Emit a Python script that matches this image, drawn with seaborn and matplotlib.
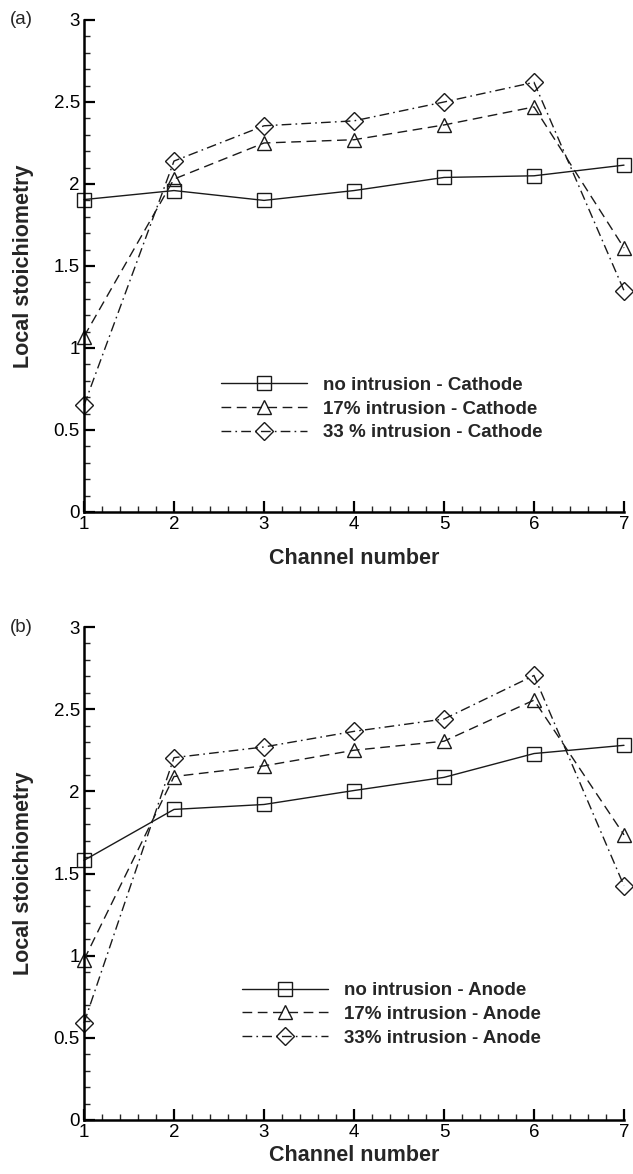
import numpy as np
import pandas as pd
import matplotlib
matplotlib.use("Agg")
import matplotlib.pyplot as plt
from matplotlib.ticker import MultipleLocator
import seaborn as sns

channels = [1, 2, 3, 4, 5, 6, 7]

cathode_none = [1.905, 1.96, 1.90, 1.96, 2.04, 2.05, 2.115]
cathode_17 = [1.07, 2.03, 2.25, 2.27, 2.36, 2.47, 1.61]
cathode_33 = [0.65, 2.14, 2.355, 2.385, 2.50, 2.62, 1.35]

anode_none = [1.58, 1.89, 1.92, 2.005, 2.085, 2.23, 2.28]
anode_17 = [0.975, 2.09, 2.155, 2.25, 2.305, 2.555, 1.735]
anode_33 = [0.59, 2.205, 2.27, 2.365, 2.44, 2.705, 1.425]

labels_a = ["no intrusion - Cathode", "17% intrusion - Cathode", "33 % intrusion - Cathode"]
labels_b = ["no intrusion - Anode", "17% intrusion - Anode", "33% intrusion - Anode"]

ytick_vals = [0, 0.5, 1, 1.5, 2, 2.5, 3]
ytick_labels = ["0", "0.5", "1", "1.5", "2", "2.5", "3"]

sns.set_style("ticks")
plt.rcParams["font.family"] = ["Liberation Sans", "DejaVu Sans"]

fig = plt.figure(figsize=(6.33, 11.74), dpi=100)
W, H = 633, 1174

def axes_px(left, right, top, bottom):
    return fig.add_axes([left / W, 1 - bottom / H, (right - left) / W, (bottom - top) / H])

ax_a = axes_px(84, 624, 20, 512)
ax_b = axes_px(84, 624, 627, 1120)

styles = [
    dict(linestyle="-", marker="s", markersize=9.5),
    dict(linestyle=(0, (7, 4)), marker="^", markersize=10.5),
    dict(linestyle=(0, (7, 3, 1.2, 3)), marker="D", markersize=9.5),
]
col = "#1a1a1a"

def draw(ax, series, labels, legend_pos, tag, tag_y, xpad):
    for vals, lab, st in zip(series, labels, styles):
        df = pd.DataFrame({"Channel": channels, "Value": vals})
        sns.lineplot(data=df, x="Channel", y="Value", ax=ax, color=col,
                     linewidth=1.0, markerfacecolor="none", markeredgecolor=col,
                     markeredgewidth=1.0, label=lab, errorbar=None,
                     clip_on=False, **st)
    ax.set_xlim(1, 7)
    ax.set_ylim(0, 3)
    ax.set_xticks(channels)
    ax.set_xticklabels([str(c) for c in channels])
    ax.set_yticks(ytick_vals)
    ax.set_yticklabels(ytick_labels)
    ax.xaxis.set_minor_locator(MultipleLocator(0.2))
    ax.yaxis.set_minor_locator(MultipleLocator(0.1))
    ax.tick_params(axis="both", which="major", direction="in", length=8, width=1.6,
                   labelsize=13.5, colors="black", pad=3)
    ax.tick_params(axis="both", which="minor", direction="in", length=4.5, width=1.0)
    for s in ["top", "right"]:
        ax.spines[s].set_visible(False)
    for s in ["left", "bottom"]:
        ax.spines[s].set_linewidth(1.8)
        ax.spines[s].set_color("black")
    ax.set_xlabel("Channel number", fontsize=15.5, fontweight="bold", labelpad=xpad)
    ax.set_ylabel("Local stoichiometry", fontsize=15.5, fontweight="bold", labelpad=14)
    leg = ax.legend(loc="upper left", bbox_to_anchor=legend_pos, frameon=False,
                    fontsize=13.5, handlelength=4.6, handletextpad=0.85,
                    labelspacing=0.35, borderaxespad=0)
    for t in leg.get_texts():
        t.set_fontweight("bold")
    fig.text(10 / W, 1 - tag_y / H, tag, fontsize=13.5, ha="left", va="center")

draw(ax_a, [cathode_none, cathode_17, cathode_33], labels_a, (0.24, 0.29), "(a)", 20, 11)
draw(ax_b, [anode_none, anode_17, anode_33], labels_b, (0.278, 0.295), "(b)", 627, 3)

fig.savefig("out.png", dpi=100)
